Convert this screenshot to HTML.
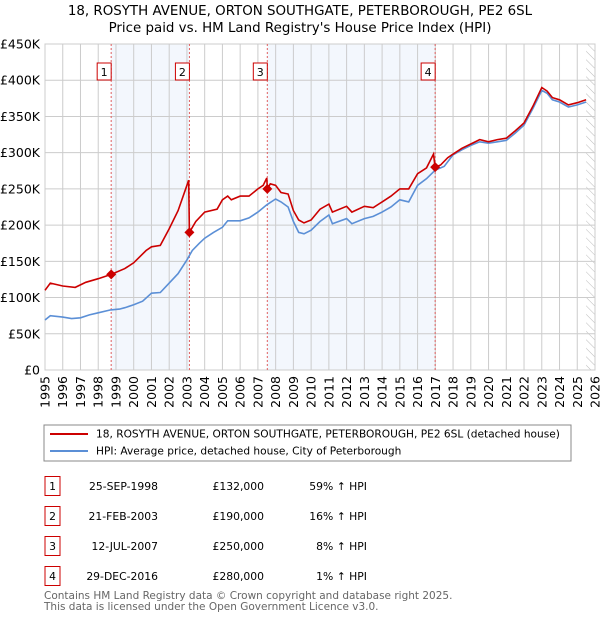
<!DOCTYPE html>
<html><head><meta charset="utf-8"><style>
body{margin:0;background:#fff;font-family:"Liberation Sans","DejaVu Sans",sans-serif;}
svg text{font-family:"DejaVu Sans","Liberation Sans",sans-serif;}
</style></head><body>
<svg id="c" width="600" height="620" xmlns="http://www.w3.org/2000/svg">
<defs><pattern id="hatch" width="6" height="6" patternUnits="userSpaceOnUse" patternTransform="rotate(-45)"><line x1="0" y1="0" x2="0" y2="6" stroke="#bbb" stroke-width="1"/></pattern></defs>
<text x="300" y="15" font-size="13.4" text-anchor="middle">18, ROSYTH AVENUE, ORTON SOUTHGATE, PETERBOROUGH, PE2 6SL</text>
<text x="300" y="32" font-size="13.4" text-anchor="middle">Price paid vs. HM Land Registry's House Price Index (HPI)</text>
<g id="plot"></g>
<rect x="44" y="425" width="527" height="36" fill="#fff" stroke="#888"/>
<line x1="50" y1="434" x2="88" y2="434" stroke="#cc0000" stroke-width="2"/>
<text x="96" y="437.5" font-size="10.6">18, ROSYTH AVENUE, ORTON SOUTHGATE, PETERBOROUGH, PE2 6SL (detached house)</text>
<line x1="50" y1="451" x2="88" y2="451" stroke="#5b8fd6" stroke-width="2"/>
<text x="96" y="454.5" font-size="10.6">HPI: Average price, detached house, City of Peterborough</text>
<g id="tbl"></g>
<text x="44" y="599" font-size="10.5" fill="#666">Contains HM Land Registry data © Crown copyright and database right 2025.</text>
<text x="44" y="610" font-size="10.5" fill="#666">This data is licensed under the Open Government Licence v3.0.</text>
</svg>
<script>
const hpiYears=[1995,1995.3,1996,1996.5,1997,1997.5,1998,1998.7,1999.2,1999.5,2000,2000.5,2001,2001.5,2002,2002.5,2003,2003.3,2003.7,2004,2004.5,2005,2005.3,2006,2006.5,2007,2007.5,2008,2008.3,2008.7,2009,2009.3,2009.6,2010,2010.5,2011,2011.2,2012,2012.3,2013,2013.5,2014,2014.5,2015,2015.5,2016,2016.5,2017,2017.5,2018,2018.5,2019,2019.5,2020,2020.5,2021,2021.5,2022,2022.5,2023,2023.3,2023.6,2024,2024.5,2025,2025.5];
const hpiValues=[69,75,73,71,72,76,79,83,84,86,90,95,106,107,120,133,152,165,175,182,190,197,206,206,210,218,228,236,232,225,205,190,188,193,205,214,202,209,202,209,212,218,225,235,232,255,264,276,281,297,304,310,315,313,315,317,327,338,361,386,382,373,370,363,366,370];
const propYears=[1995,1995.3,1996,1996.7,1997.3,1998,1998.73,1999.5,2000,2000.7,2001,2001.5,2002,2002.5,2003.1,2003.14,2003.5,2004,2004.7,2005,2005.3,2005.5,2006,2006.5,2007,2007.3,2007.5,2007.53,2007.7,2008,2008.3,2008.7,2009,2009.3,2009.6,2010,2010.5,2011,2011.2,2012,2012.3,2013,2013.5,2014,2014.5,2015,2015.5,2016,2016.5,2016.9,2016.99,2017.3,2017.7,2018,2018.5,2019,2019.5,2020,2020.5,2021,2021.5,2022,2022.5,2023,2023.3,2023.6,2024,2024.5,2025,2025.5];
const propValues=[110,120,116,114,121,126,132,140,148,165,170,172,195,220,262,190,205,218,222,235,240,235,240,240,250,255,265,250,257,255,245,243,220,207,203,207,222,229,218,226,218,226,224,232,240,250,250,271,279,298,280,283,293,298,306,312,318,315,318,320,330,341,364,390,385,376,373,366,369,373];
const saleYears=[1998.73,2003.14,2007.53,2016.99];
const saleValues=[132,190,250,280];
const saleLabels=["1","2","3","4"];
const saleDates=["25-SEP-1998","21-FEB-2003","12-JUL-2007","29-DEC-2016"];
const salePrices=["£132,000","£190,000","£250,000","£280,000"];
const saleHpi=["59% ↑ HPI","16% ↑ HPI","8% ↑ HPI","1% ↑ HPI"];
const yTicks=[0,50,100,150,200,250,300,350,400,450];
const yTickLabels=["£0","£50K","£100K","£150K","£200K","£250K","£300K","£350K","£400K","£450K"];

const NS="http://www.w3.org/2000/svg";
const X0=45,X1=595,Y0=370,Y1=44;
const xs=y=>X0+(y-1995)/31*(X1-X0);
const ys=v=>Y0-v/450*(Y0-Y1);
const plot=document.getElementById('plot');
function mk(tag,attrs,parent){const e=document.createElementNS(NS,tag);for(const k in attrs)e.setAttribute(k,attrs[k]);(parent||plot).appendChild(e);return e;}
for(const [a,b] of [[0,1],[2,3]]){
 const r=mk('rect',{x:xs(saleYears[a]),y:Y1,width:xs(saleYears[b])-xs(saleYears[a]),height:Y0-Y1,fill:'#eef3fc',opacity:0.7});
 
 
}
const h=mk('rect',{x:xs(2025.5),y:Y1,width:X1-xs(2025.5),height:Y0-Y1,fill:'url(#hatch)'});


for(let i=0;i<yTicks.length;i++){
 const y=ys(yTicks[i]);
 const l=mk('line',{x1:X0,x2:X1,y1:y,y2:y,stroke:'#ccc'});
 
 
 const t=mk('text',{x:X0-5,y:y+4.5,'font-size':12.5,'text-anchor':'end'});t.textContent=yTickLabels[i];
 
 
}
for(let yr=1995;yr<=2026;yr++){
 const x=xs(yr);
 const l=mk('line',{x1:x,x2:x,y1:Y1,y2:Y0,stroke:'#ccc'});
 
 
 const t=mk('text',{x:0,y:0,'font-size':12.5,'text-anchor':'end',transform:`translate(${x+4.5},${Y0+6}) rotate(-90)`});t.textContent=yr;
 
 
}
const fr=mk('rect',{x:X0,y:Y1,width:X1-X0,height:Y0-Y1,fill:'none',stroke:'#ccc'});


for(let i=0;i<saleYears.length;i++){
 const x=xs(saleYears[i]);
 const l=mk('line',{x1:x,x2:x,y1:Y1,y2:Y0,stroke:'#e06060','stroke-dasharray':'2,2'});
 
 
}
function line(xsArr,vs,color,name){
 const d=xsArr.map((y,i)=>(i?'L':'M')+xs(y).toFixed(1)+','+ys(vs[i]).toFixed(1)).join('');
 const p=mk('path',{d:d,fill:'none',stroke:color,'stroke-width':1.6});
 
 
}
line(hpiYears,hpiValues,'#5b8fd6','hpi-line');
line(propYears,propValues,'#cc0000','property-line');
for(let i=0;i<saleYears.length;i++){
 const x=xs(saleYears[i]),y=ys(saleValues[i]);
 const p=mk('path',{d:`M${x},${y-5}L${x+5},${y}L${x},${y+5}L${x-5},${y}Z`,fill:'#cc0000'});
 
 
 const b=mk('rect',{x:x-14,y:63,width:14,height:17,fill:'#fff',stroke:'#cc0000'});
 
 
 const t=mk('text',{x:x-7,y:76,'font-size':11,'text-anchor':'middle'});t.textContent=saleLabels[i];
 
 
}
const tbl=document.getElementById('tbl');
for(let i=0;i<saleYears.length;i++){
 const c=486+i*30;
 const b=mk('rect',{x:45,y:c-9.5,width:15,height:19,fill:'#fff',stroke:'#cc0000'},tbl);
 
 
 const cells=[[52.5,saleLabels[i],'middle'],[158,saleDates[i],'end'],[264,salePrices[i],'end'],[367,saleHpi[i],'end']];
 for(const [x,s,a] of cells){
  const t=mk('text',{x:x,y:c+4,'font-size':10.8,'text-anchor':a},tbl);t.textContent=s;
  
  
 }
}
</script>
</body></html>
